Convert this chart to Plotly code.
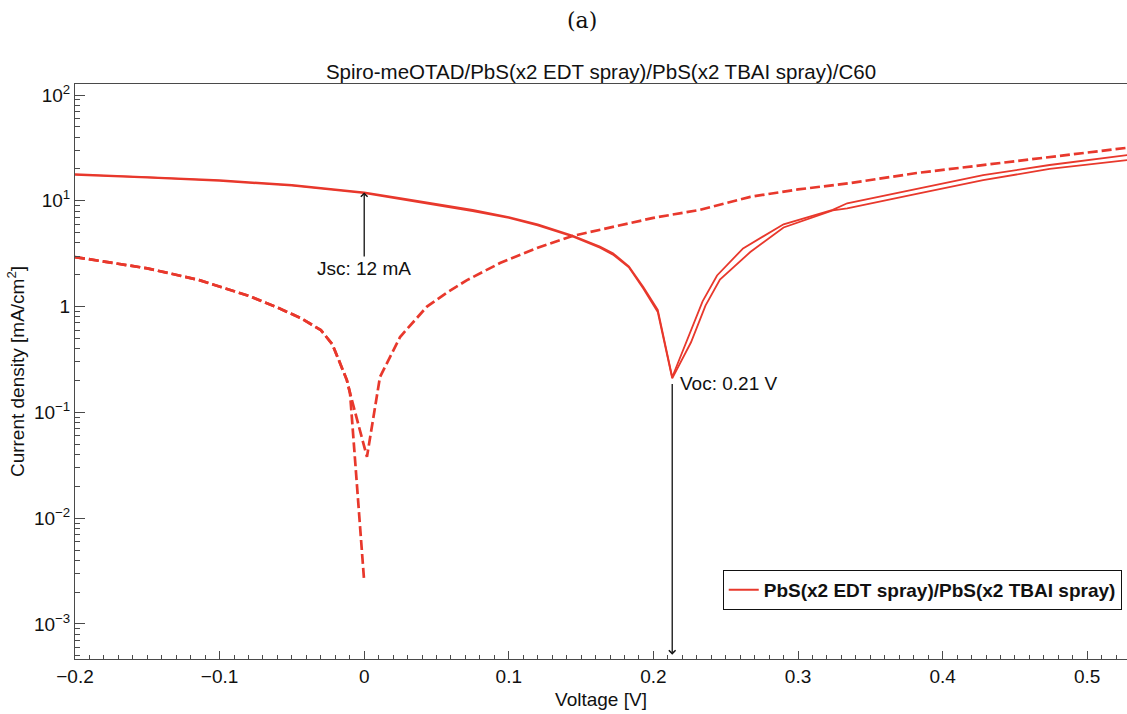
import math
import plotly.graph_objects as go

# Illuminated J-V sweeps (|J| in mA/cm^2)
light_fwd_v = [-0.2, -0.15, -0.1, -0.05, 0.0, 0.025, 0.05, 0.075, 0.1, 0.12, 0.144, 0.163,
               0.172, 0.183, 0.193, 0.203, 0.213, 0.224, 0.234, 0.244, 0.262, 0.29, 0.324,
               0.334, 0.382, 0.428, 0.474, 0.53]
light_fwd_j = [17.9, 16.9, 15.7, 14.1, 12.0, 10.6, 9.3, 8.2, 7.0, 6.0, 4.7, 3.7,
               3.2, 2.4, 1.53, 0.93, 0.215, 0.50, 1.12, 1.97, 3.55, 6.0, 8.2,
               9.47, 12.9, 17.5, 21.8, 27.3]
light_rev_v = [-0.2, -0.15, -0.1, -0.05, 0.0, 0.025, 0.05, 0.075, 0.1, 0.12, 0.144, 0.163,
               0.172, 0.183, 0.193, 0.203, 0.213, 0.226, 0.236, 0.246, 0.267, 0.29, 0.324,
               0.334, 0.382, 0.428, 0.474, 0.53]
light_rev_j = [17.6, 16.6, 15.4, 13.9, 11.8, 10.4, 9.1, 8.0, 6.9, 5.85, 4.6, 3.6,
               3.1, 2.35, 1.48, 0.89, 0.21, 0.46, 1.02, 1.8, 3.28, 5.6, 8.1,
               8.5, 11.6, 15.7, 20.0, 24.5]

# Dark J-V sweeps
dark_a_v = [-0.2, -0.15, -0.114, -0.079, -0.06, -0.044, -0.03, -0.022, -0.012, -0.0098, 0.0]
dark_a_j = [2.94, 2.3, 1.78, 1.25, 0.98, 0.78, 0.60, 0.44, 0.202, 0.152, 0.0025]
dark_b_v = [-0.2, -0.15, -0.114, -0.079, -0.06, -0.044, -0.03, -0.022, -0.012, -0.0098,
            0.0019, 0.0109, 0.0248, 0.0434, 0.057, 0.0711, 0.0939, 0.12, 0.144, 0.163,
            0.2, 0.232, 0.267, 0.3, 0.336, 0.382, 0.44, 0.481, 0.53]
dark_b_j = [2.94, 2.3, 1.78, 1.25, 0.98, 0.78, 0.60, 0.44, 0.202, 0.152,
            0.038, 0.216, 0.516, 1.0, 1.35, 1.78, 2.58, 3.6, 4.65, 5.3,
            6.9, 8.2, 10.9, 12.8, 14.7, 18.3, 22.7, 26.5, 32.0]

jsc = 12
voc = 0.213
voc_j = 0.215

x_ticks = [-0.2, -0.1, 0, 0.1, 0.2, 0.3, 0.4, 0.5]
x_ticktext = ["\u22120.2", "\u22120.1", "0", "0.1", "0.2", "0.3", "0.4", "0.5"]
y_ticks = [0.001, 0.01, 0.1, 1, 10, 100]
y_ticktext = ["10<sup>\u22123</sup>", "10<sup>\u22122</sup>", "10<sup>\u22121</sup>", "1",
              "10<sup>1</sup>", "10<sup>2</sup>"]

RED = "#E8382C"
AXIS = "#4a4a4a"
FONT = "Liberation Sans, Arial, sans-serif"

fig = go.Figure()

fig.add_trace(go.Scatter(x=dark_a_v, y=dark_a_j, mode="lines", showlegend=False,
                         line=dict(color=RED, width=2.7, dash="10px,4px")))
fig.add_trace(go.Scatter(x=dark_b_v, y=dark_b_j, mode="lines", showlegend=False,
                         line=dict(color=RED, width=2.7, dash="10px,4px")))
fig.add_trace(go.Scatter(x=light_rev_v, y=light_rev_j, mode="lines", showlegend=False,
                         line=dict(color=RED, width=1.8)))
fig.add_trace(go.Scatter(x=light_fwd_v, y=light_fwd_j, mode="lines",
                         name="<b>PbS(x2 EDT spray)/PbS(x2 TBAI spray)</b>",
                         line=dict(color=RED, width=1.8)))

minor_y = [k * 10 ** d for d in range(-4, 3) for k in range(2, 10)]

fig.update_xaxes(
    range=[-0.2, 0.5275], tickvals=x_ticks, ticktext=x_ticktext,
    ticks="inside", ticklen=8, tickwidth=1, tickcolor=AXIS,
    minor=dict(ticks="inside", ticklen=4, dtick=0.01, tick0=0, tickcolor=AXIS, tickwidth=1),
    showline=True, linecolor=AXIS, linewidth=1, mirror=True,
    showgrid=False, zeroline=False,
    tickfont=dict(family=FONT, size=19, color="#111"),
    title=dict(text="Voltage [V]", font=dict(family=FONT, size=19, color="#111"), standoff=6),
)
fig.update_yaxes(
    type="log", range=[-3.331, 2.104], tickvals=y_ticks, ticktext=y_ticktext,
    ticks="inside", ticklen=10, tickwidth=1, tickcolor=AXIS,
    minor=dict(ticks="inside", ticklen=5, tickvals=minor_y, tickcolor=AXIS, tickwidth=1),
    showline=True, linecolor=AXIS, linewidth=1, mirror=False,
    showgrid=False, zeroline=False,
    tickfont=dict(family=FONT, size=19, color="#111"),
    title=dict(text="Current density [mA/cm<sup>2</sup>]",
               font=dict(family=FONT, size=19, color="#111"), standoff=4),
)

# Jsc marker
fig.add_annotation(x=0, y=math.log10(jsc), xref="x", yref="y",
                   text=f"Jsc: {jsc:.0f} mA", showarrow=True, ax=0, ay=76,
                   arrowhead=4, arrowsize=1, arrowwidth=1.3, arrowcolor="#111",
                   font=dict(family=FONT, size=19, color="#111"))
# Voc marker
fig.add_annotation(x=voc, y=-3.29, xref="x", yref="y", text="",
                   showarrow=True, axref="x", ayref="y", ax=voc, ay=math.log10(voc_j) - 0.05,
                   arrowhead=4, arrowsize=1, arrowwidth=1.3, arrowcolor="#111")
fig.add_annotation(x=voc, y=math.log10(voc_j), xref="x", yref="y",
                   text=f"Voc: {voc:.2f} V", showarrow=False,
                   xanchor="left", yanchor="middle", xshift=6, yshift=-6,
                   font=dict(family=FONT, size=19, color="#111"))
# panel label
fig.add_annotation(x=0.482, y=1.11, xref="paper", yref="paper", text="(a)",
                   showarrow=False, xanchor="center", yanchor="middle",
                   font=dict(family="DejaVu Serif, serif", size=22, color="#111"))

fig.update_layout(
    width=1127, height=714, autosize=False,
    margin=dict(l=75, r=0, t=84, b=55),
    paper_bgcolor="white", plot_bgcolor="white",
    title=dict(text="Spiro-meOTAD/PbS(x2 EDT spray)/PbS(x2 TBAI spray)/C60",
               x=0.5, xref="paper", y=1 - 72 / 714, yref="container",
               xanchor="center", yanchor="middle",
               font=dict(family=FONT, size=20.5, color="#111")),
    legend=dict(x=0.995, y=0.155, xanchor="right", yanchor="top",
                bgcolor="white", bordercolor="#111", borderwidth=1,
                font=dict(family=FONT, size=19, color="#111"),
                itemwidth=30, tracegroupgap=0),
    showlegend=True,
)

fig.write_html("out.html")
